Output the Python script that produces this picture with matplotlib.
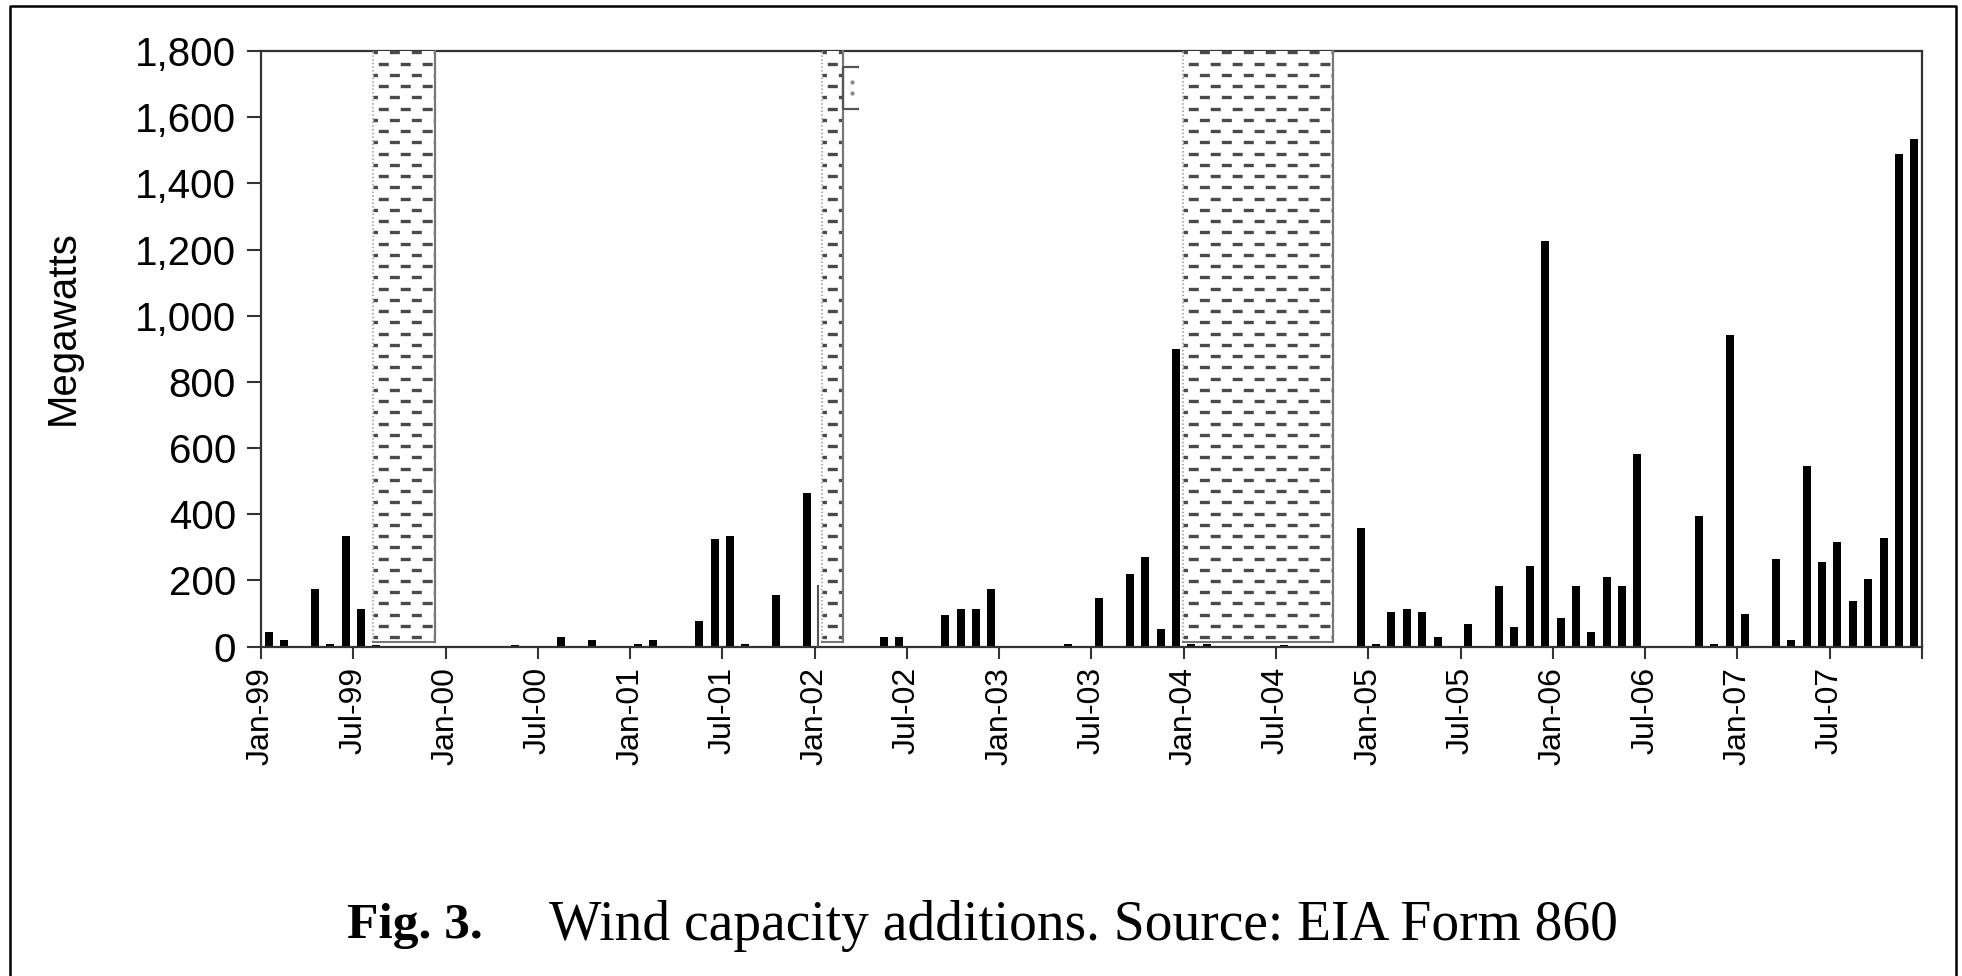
import matplotlib.pyplot as plt
import matplotlib.ticker as mticker
from matplotlib.patches import Rectangle
from matplotlib.lines import Line2D
import numpy as np
import pandas as pd

plt.rcParams['font.family'] = ['Liberation Sans', 'DejaVu Sans']
plt.rcParams['lines.scale_dashes'] = False

# Monthly wind capacity additions, MW (EIA Form 860), one list per year
mw_1999 = [45, 20, 0, 175, 8, 335, 113, 6, 0, 0, 0, 0]
mw_2000 = [0, 0, 0, 0, 6, 0, 0, 28, 0, 21, 0, 0]
mw_2001 = [7, 21, 0, 0, 78, 325, 335, 8, 0, 156, 0, 465]
mw_2002 = [0, 0, 0, 0, 28, 28, 0, 0, 95, 113, 113, 175]
mw_2003 = [0, 0, 0, 0, 7, 0, 148, 0, 219, 272, 52, 898]
mw_2004 = [8, 8, 0, 0, 0, 0, 5, 0, 0, 0, 0, 359]
mw_2005 = [7, 105, 113, 105, 28, 0, 68, 0, 184, 60, 244, 1225]
mw_2006 = [86, 184, 45, 211, 184, 581, 0, 0, 0, 395, 8, 943]
mw_2007 = [97, 0, 265, 20, 546, 255, 315, 139, 203, 327, 1490, 1535]

capacity_mw = (mw_1999 + mw_2000 + mw_2001 + mw_2002 + mw_2003
               + mw_2004 + mw_2005 + mw_2006 + mw_2007)

months = pd.date_range('1999-01-01', '2007-12-01', freq='MS')
month_labels = list(months.strftime('%b-%y'))

# shaded periods (PTC lapses), in months counted from Jan-99
shade_start = [7.3, 36.45, 59.95]
shade_end = [11.3, 37.85, 69.7]
shade_bottom = 15
shade_top = 1800
jan02_outline = 183  # unfilled outline at the Jan-02 lapse


def draw_hatched_span(ax, x0, x1, bottom, top):
    """Белый прямоугольник с рядами штрихов, как в оригинале"""
    ax.add_patch(Rectangle((x0, bottom), x1 - x0, top - bottom, facecolor='white',
                           edgecolor='none', zorder=3, clip_on=False))
    rows = np.arange(top - 4, bottom + 8, -34)
    for k, y in enumerate(rows):
        offset = 0 if k % 2 == 0 else 8
        ax.plot([x0, x1], [y, y], color='#4a4a4a', linewidth=2.4,
                linestyle=(offset + 4, (7.2, 8.6)), dash_capstyle='butt',
                zorder=4, clip_on=False)
    ax.plot([x1, x1], [bottom, top], color='#777777', linewidth=1.6, zorder=4, clip_on=False)
    ax.plot([x0, x0], [bottom, top], color='#999999', linewidth=1.2, linestyle=':',
            zorder=4, clip_on=False)
    ax.plot([x0, x1], [bottom, bottom], color='#777777', linewidth=1.5, zorder=4)


fig = plt.figure(figsize=(19.62, 9.76), dpi=100)
ax = fig.add_axes([0.1330, 0.3376, 0.8466, 0.6101])

x = np.arange(len(capacity_mw)) + 0.5
ax.bar(x, capacity_mw, width=0.52, color='black', zorder=2)

for s, e in zip(shade_start, shade_end):
    draw_hatched_span(ax, s, e, shade_bottom, shade_top)

# odd little marks next to the Jan-02 lapse
ax.plot([shade_start[1] - 0.25] * 2, [0, jan02_outline], color='#555555', linewidth=1.5, zorder=4)
x0 = shade_end[1]
ax.plot([x0 + 0.95, x0, x0, x0 + 0.95], [1752, 1752, 1625, 1625], color='#555555',
        linewidth=1.6, zorder=4)
ax.plot([x0 + 0.6, x0 + 0.6], [1705, 1672], 'o', markersize=2, color='#888888', zorder=4)

ax.set_xlim(0, len(capacity_mw))
ax.set_ylim(0, 1800)

ax.set_xticks(np.arange(0, len(capacity_mw) + 1, 6))
ax.set_xticklabels(month_labels[::6] + [''])
ax.set_yticks(np.arange(0, 1801, 200))
ax.yaxis.set_major_formatter(mticker.FuncFormatter(lambda v, p: f'{int(v):,}'))

ax.tick_params(axis='x', direction='out', length=8.5, width=1.5, pad=6,
               labelsize=23, labelrotation=90, color='#333333')
ax.tick_params(axis='y', direction='out', length=10, width=1.5, pad=8,
               labelsize=29, color='#333333')
for sp in ax.spines.values():
    sp.set_color('#333333')
    sp.set_linewidth(1.6)

fig.text(63 / 1962, 0.664, 'Megawatts', rotation=90, ha='center', va='center', fontsize=29)

# подпись рисунка
fig.text(0.177, 0.051, 'Fig. 3.', family='Liberation Serif', fontweight='bold',
         fontsize=37, va='center', ha='left')
fig.text(0.280, 0.051, 'Wind capacity additions. Source: EIA Form 860',
         family='Liberation Serif', fontsize=40, va='center', ha='left')

# рамка вокруг рисунка
bx0, bx1, by1 = 10 / 1962, 1956 / 1962, 1 - 6 / 976
fig.add_artist(Line2D([bx0, bx0, bx1, bx1], [0, by1, by1, 0], color='black', linewidth=1.8))

fig.savefig('out.png', dpi=100)
